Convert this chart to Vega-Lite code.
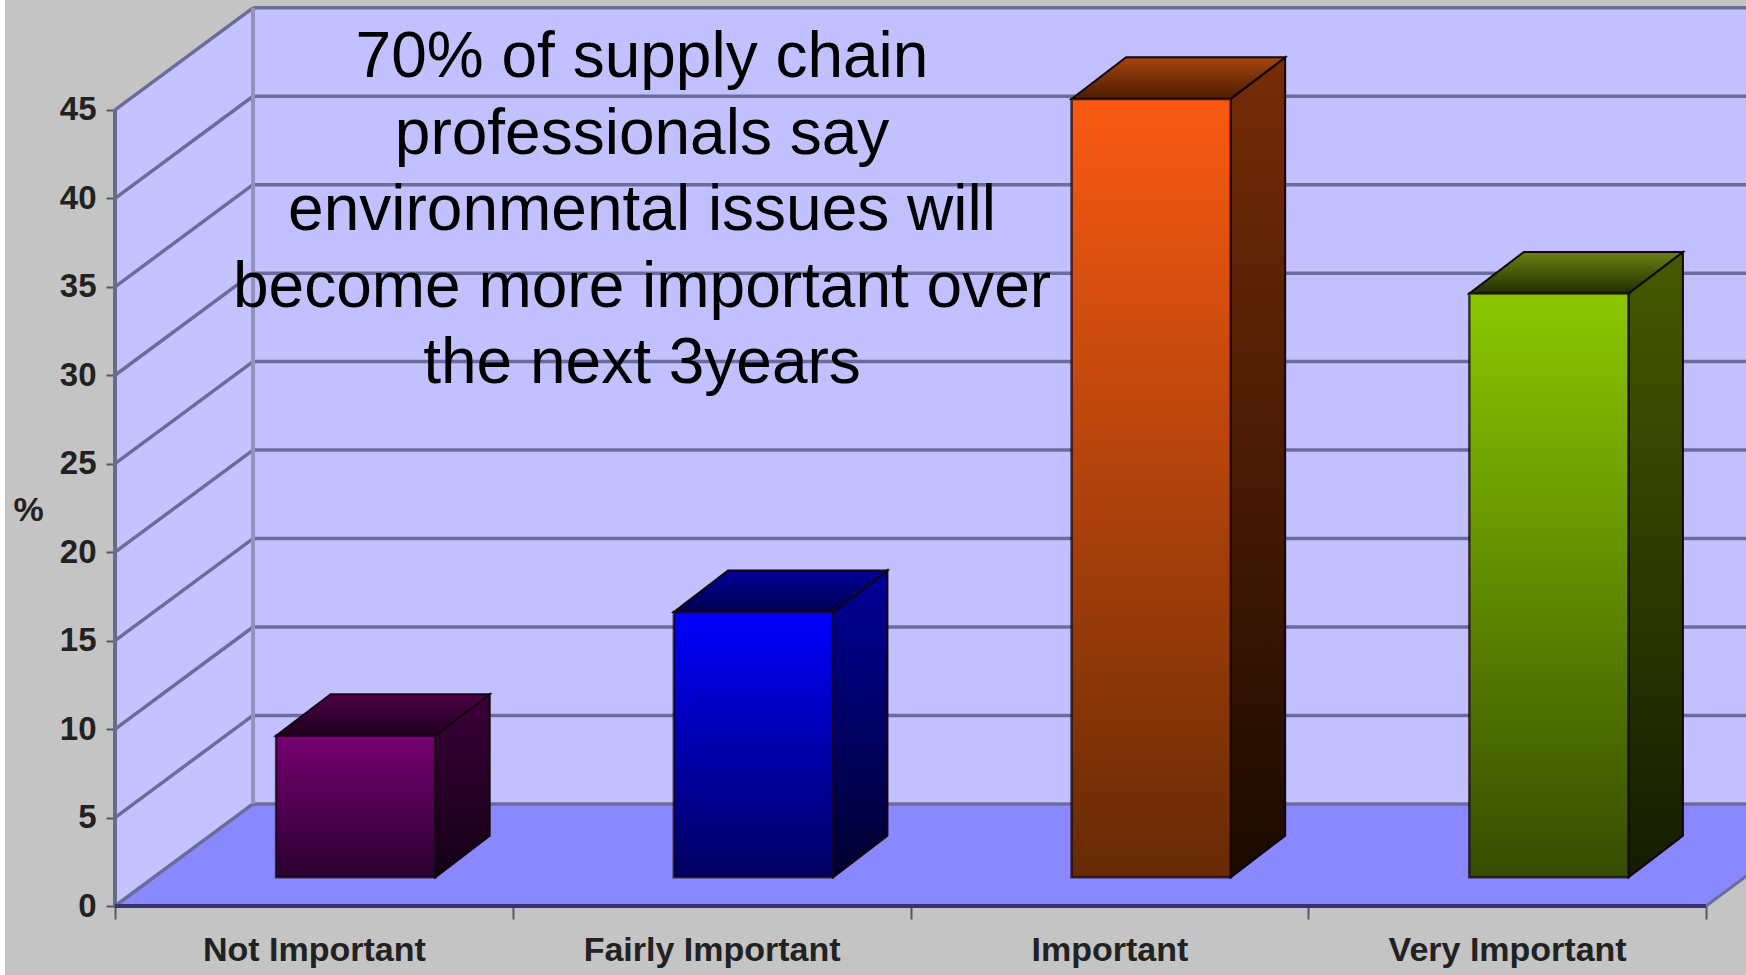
{
  "$schema": "https://vega.github.io/schema/vega-lite/v6.json",
  "width": 1741,
  "height": 975,
  "padding": {"left": 5, "top": 0, "right": 0, "bottom": 0},
  "autosize": {"type": "none"},
  "background": "#ffffff",
  "view": {"stroke": null, "fill": "#c4c4c4"},
  "datasets": {
    "bars": [
      {"category": "Not Important", "slot": 0, "value": 8},
      {"category": "Fairly Important", "slot": 1, "value": 15},
      {"category": "Important", "slot": 2, "value": 44},
      {"category": "Very Important", "slot": 3, "value": 33}
    ],
    "gridlines": [
      {"tick": 0}, {"tick": 5}, {"tick": 10}, {"tick": 15}, {"tick": 20},
      {"tick": 25}, {"tick": 30}, {"tick": 35}, {"tick": 40}, {"tick": 45}
    ],
    "depths": [{"depth": 0}, {"depth": 1}]
  },
  "layer": [
    {
      "data": {"values": [{"panel": "back wall"}]},
      "mark": {"type": "rect", "fill": "#c2c0ff", "clip": true},
      "encoding": {
        "x": {
          "datum": 0.347,
          "type": "quantitative",
          "scale": {"domain": [-0.2766, 4.1006], "nice": false, "zero": false},
          "axis": {
            "orient": "bottom",
            "offset": -69,
            "title": null,
            "grid": false,
            "domain": false,
            "values": [0, 0.5, 1, 1.5, 2, 2.5, 3, 3.5, 4],
            "labelExpr": "datum.value == 0.5 ? 'Not Important' : datum.value == 1.5 ? 'Fairly Important' : datum.value == 2.5 ? 'Important' : datum.value == 3.5 ? 'Very Important' : ''",
            "tickOpacity": {"condition": {"test": "datum.value % 1 != 0", "value": 0}, "value": 1},
            "tickSize": 13,
            "tickWidth": 2,
            "tickColor": "#55556a",
            "labelPadding": 14,
            "labelFont": "Liberation Sans",
            "labelFontWeight": "bold",
            "labelFontSize": 34,
            "labelLimit": 400,
            "labelColor": "#222222",
            "labelOverlap": false,
            "labelFlush": false,
            "labelBound": false,
            "labelAngle": 0
          }
        },
        "x2": {"datum": 4.347},
        "y": {
          "datum": 5.77,
          "type": "quantitative",
          "scale": {"domain": [-3.9, 51.21], "nice": false, "zero": false},
          "axis": {
            "orient": "left",
            "offset": -110,
            "title": "%",
            "titleAngle": 0,
            "titleX": -87,
            "titleY": 510,
            "titleFont": "Liberation Sans",
            "titleFontWeight": "bold",
            "titleFontSize": 34,
            "titleColor": "#222222",
            "titleAlign": "center",
            "titleBaseline": "middle",
            "grid": false,
            "domain": false,
            "values": [0, 5, 10, 15, 20, 25, 30, 35, 40, 45],
            "tickSize": 9,
            "tickWidth": 2,
            "tickColor": "#55556a",
            "labelPadding": 10,
            "labelFont": "Liberation Sans",
            "labelFontWeight": "bold",
            "labelFontSize": 33,
            "labelColor": "#222222",
            "labelOverlap": false,
            "labelBound": false,
            "labelFlush": false
          }
        },
        "y2": {"datum": 50.77}
      }
    },
    {
      "data": {"name": "depths"},
      "transform": [
        {"calculate": "datum.depth * 0.347", "as": "wallX"},
        {"calculate": "datum.depth * 5.77", "as": "wallBase"},
        {"calculate": "45 + datum.depth * 5.77", "as": "wallTop"}
      ],
      "mark": {"type": "area", "fill": "#c4c2ff", "orient": "vertical"},
      "encoding": {
        "x": {"field": "wallX", "type": "quantitative"},
        "y": {"field": "wallBase", "type": "quantitative"},
        "y2": {"field": "wallTop"}
      }
    },
    {
      "data": {"name": "depths"},
      "transform": [
        {"calculate": "datum.depth * 0.347", "as": "floorLeft"},
        {"calculate": "4 + datum.depth * 0.347", "as": "floorRight"},
        {"calculate": "datum.depth * 5.77", "as": "floorY"}
      ],
      "mark": {"type": "area", "fill": "#8a88ff", "orient": "horizontal", "clip": true},
      "encoding": {
        "y": {"field": "floorY", "type": "quantitative"},
        "x": {"field": "floorLeft", "type": "quantitative"},
        "x2": {"field": "floorRight"}
      }
    },
    {
      "data": {"name": "gridlines"},
      "transform": [{"calculate": "datum.tick + 5.77", "as": "backY"}],
      "mark": {"type": "rule", "stroke": "#6c6c9c", "strokeWidth": 3.5, "clip": true},
      "encoding": {
        "x": {"datum": 0.347, "type": "quantitative"},
        "x2": {"datum": 4.35},
        "y": {"field": "backY", "type": "quantitative"}
      }
    },
    {
      "data": {"name": "gridlines"},
      "transform": [{"calculate": "datum.tick + 5.77", "as": "backY"}],
      "mark": {"type": "rule", "stroke": "#6c6c9c", "strokeWidth": 3.5},
      "encoding": {
        "x": {"datum": 0, "type": "quantitative"},
        "x2": {"datum": 0.347},
        "y": {"field": "tick", "type": "quantitative"},
        "y2": {"field": "backY"}
      }
    },
    {
      "data": {"values": [{"edge": "rear corner"}]},
      "mark": {"type": "rule", "stroke": "#9492bd", "strokeWidth": 4},
      "encoding": {
        "x": {"datum": 0.347, "type": "quantitative"},
        "y": {"datum": 5.77, "type": "quantitative"},
        "y2": {"datum": 50.77}
      }
    },
    {
      "data": {"values": [{"edge": "front corner"}]},
      "mark": {"type": "rule", "stroke": "#6a6a8c", "strokeWidth": 4},
      "encoding": {
        "x": {"datum": 0, "type": "quantitative"},
        "y": {"datum": 0, "type": "quantitative"},
        "y2": {"datum": 45}
      }
    },
    {
      "data": {"values": [{"edge": "front base"}]},
      "mark": {"type": "rule", "stroke": "#34346e", "strokeWidth": 4},
      "encoding": {
        "x": {"datum": 0, "type": "quantitative"},
        "x2": {"datum": 4},
        "y": {"datum": 0, "type": "quantitative"}
      }
    },
    {
      "data": {"values": [{"edge": "right base"}]},
      "mark": {"type": "rule", "stroke": "#6c6c9c", "strokeWidth": 3, "clip": true},
      "encoding": {
        "x": {"datum": 4, "type": "quantitative"},
        "x2": {"datum": 4.347},
        "y": {"datum": 0, "type": "quantitative"},
        "y2": {"datum": 5.77}
      }
    },
    {
      "data": {"name": "bars"},
      "transform": [
        {"calculate": "[0, 1]", "as": "depth"},
        {"flatten": ["depth"]},
        {"calculate": "datum.slot + 0.805 + datum.depth * 0.137", "as": "sideX"},
        {"calculate": "1.62 + datum.depth * 2.35", "as": "sideBase"},
        {"calculate": "1.62 + datum.value + datum.depth * 2.35", "as": "sideTop"}
      ],
      "mark": {"type": "area", "orient": "vertical", "stroke": "#14060f", "strokeWidth": 2},
      "encoding": {
        "x": {"field": "sideX", "type": "quantitative"},
        "y": {"field": "sideBase", "type": "quantitative"},
        "y2": {"field": "sideTop"},
        "detail": {"field": "category", "type": "nominal"},
        "fill": {
          "condition": [
            {"test": "datum.slot == 0", "value": {"gradient": "linear", "x1": 0, "y1": 0, "x2": 0, "y2": 1, "stops": [{"offset": 0, "color": "#3c0038"}, {"offset": 1, "color": "#120016"}]}},
            {"test": "datum.slot == 1", "value": {"gradient": "linear", "x1": 0, "y1": 0, "x2": 0, "y2": 1, "stops": [{"offset": 0, "color": "#00009a"}, {"offset": 1, "color": "#000030"}]}},
            {"test": "datum.slot == 2", "value": {"gradient": "linear", "x1": 0, "y1": 0, "x2": 0, "y2": 1, "stops": [{"offset": 0, "color": "#762c08"}, {"offset": 1, "color": "#1a0a00"}]}}
          ],
          "value": {"gradient": "linear", "x1": 0, "y1": 0, "x2": 0, "y2": 1, "stops": [{"offset": 0, "color": "#465a00"}, {"offset": 1, "color": "#141c00"}]}
        }
      }
    },
    {
      "data": {"name": "bars"},
      "transform": [
        {"calculate": "[0, 1]", "as": "depth"},
        {"flatten": ["depth"]},
        {"calculate": "datum.slot + 0.405 + datum.depth * 0.137", "as": "topLeft"},
        {"calculate": "datum.slot + 0.805 + datum.depth * 0.137", "as": "topRight"},
        {"calculate": "1.62 + datum.value + datum.depth * 2.35", "as": "topY"}
      ],
      "mark": {"type": "area", "orient": "horizontal", "stroke": "#14060f", "strokeWidth": 2},
      "encoding": {
        "y": {"field": "topY", "type": "quantitative"},
        "x": {"field": "topLeft", "type": "quantitative"},
        "x2": {"field": "topRight"},
        "detail": {"field": "category", "type": "nominal"},
        "fill": {
          "condition": [
            {"test": "datum.slot == 0", "value": {"gradient": "linear", "x1": 0, "y1": 0, "x2": 0, "y2": 1, "stops": [{"offset": 0, "color": "#4c0046"}, {"offset": 1, "color": "#200020"}]}},
            {"test": "datum.slot == 1", "value": {"gradient": "linear", "x1": 0, "y1": 0, "x2": 0, "y2": 1, "stops": [{"offset": 0, "color": "#00009c"}, {"offset": 1, "color": "#00004c"}]}},
            {"test": "datum.slot == 2", "value": {"gradient": "linear", "x1": 0, "y1": 0, "x2": 0, "y2": 1, "stops": [{"offset": 0, "color": "#a54510"}, {"offset": 1, "color": "#4a1c00"}]}}
          ],
          "value": {"gradient": "linear", "x1": 0, "y1": 0, "x2": 0, "y2": 1, "stops": [{"offset": 0, "color": "#6c8210"}, {"offset": 1, "color": "#1f2e00"}]}
        }
      }
    },
    {
      "data": {"name": "bars"},
      "transform": [
        {"calculate": "datum.slot + 0.405", "as": "frontLeft"},
        {"calculate": "datum.slot + 0.805", "as": "frontRight"},
        {"calculate": "1.62 + datum.value", "as": "frontTop"},
        {"calculate": "1.62", "as": "frontBase"}
      ],
      "mark": {"type": "rect", "stroke": "#14060f", "strokeWidth": 2.5, "strokeOpacity": 0.75},
      "encoding": {
        "x": {"field": "frontLeft", "type": "quantitative"},
        "x2": {"field": "frontRight"},
        "y": {"field": "frontTop", "type": "quantitative"},
        "y2": {"field": "frontBase"},
        "fill": {
          "condition": [
            {"test": "datum.slot == 0", "value": {"gradient": "linear", "x1": 0, "y1": 0, "x2": 0, "y2": 1, "stops": [{"offset": 0, "color": "#760072"}, {"offset": 1, "color": "#2a0030"}]}},
            {"test": "datum.slot == 1", "value": {"gradient": "linear", "x1": 0, "y1": 0, "x2": 0, "y2": 1, "stops": [{"offset": 0, "color": "#0000ff"}, {"offset": 1, "color": "#000060"}]}},
            {"test": "datum.slot == 2", "value": {"gradient": "linear", "x1": 0, "y1": 0, "x2": 0, "y2": 1, "stops": [{"offset": 0, "color": "#fa5a12"}, {"offset": 1, "color": "#662a04"}]}}
          ],
          "value": {"gradient": "linear", "x1": 0, "y1": 0, "x2": 0, "y2": 1, "stops": [{"offset": 0, "color": "#8cc800"}, {"offset": 1, "color": "#364c00"}]}
        }
      }
    },
    {
      "data": {"values": [{"note": "headline"}]},
      "mark": {
        "type": "text",
        "text": [
          "70% of supply chain",
          "professionals say",
          "environmental issues will",
          "become more important over",
          "the next 3years"
        ],
        "font": "Liberation Sans",
        "fontSize": 64,
        "lineHeight": 76.6,
        "align": "center",
        "baseline": "middle",
        "color": "#000000"
      },
      "encoding": {
        "x": {"datum": 1.325, "type": "quantitative"},
        "y": {"datum": 47.93, "type": "quantitative"}
      }
    }
  ]
}
